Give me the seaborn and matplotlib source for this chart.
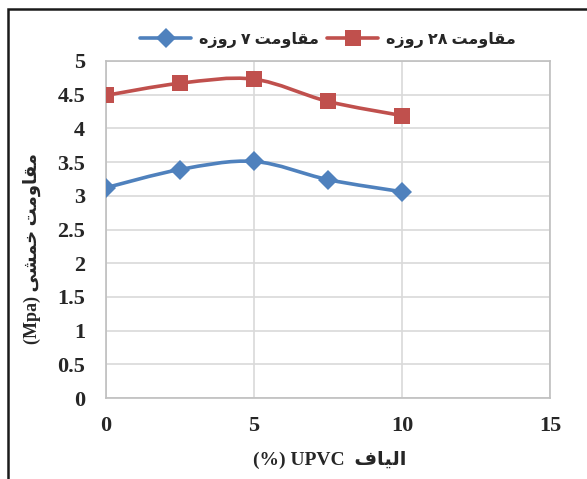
import numpy as np
import pandas as pd
import seaborn as sns
import matplotlib.pyplot as plt
from matplotlib.path import Path
from matplotlib.patches import PathPatch, Rectangle
from matplotlib.lines import Line2D

# fibre content (%) and flexural strength (MPa)
fiber = [0, 2.5, 5, 7.5, 10]
strength_7 = [3.12, 3.39, 3.51, 3.24, 3.06]
strength_28 = [4.49, 4.67, 4.73, 4.40, 4.19]

# Persian labels written in shaped presentation forms, visual (left-to-right) order
w_moqavemat = "\uFE96\uFEE3\uFEED\uFE8E\uFED8\uFEE3"   # مقاومت
w_rooze = "\uFEE9\uFEAF\uFEED\uFEAD"                   # روزه
w_khamshi = "\uFEF0\uFEB8\uFEE4\uFEA7"                 # خمشی
w_alyaf = "\uFED1\uFE8E\uFEF4\uFEDF\uFE8D"             # الیاف

label_7 = w_rooze + " \u06F7 " + w_moqavemat
label_28 = w_rooze + " \u06F2\u06F8 " + w_moqavemat
y_label = "(Mpa) " + w_khamshi + " " + w_moqavemat
x_label = "(%) UPVC  " + w_alyaf

x_ticks = [0, 5, 10, 15]
y_ticks = [0, 0.5, 1, 1.5, 2, 2.5, 3, 3.5, 4, 4.5, 5]
y_ticklabels = ["0", "0.5", "1", "1.5", "2", "2.5", "3", "3.5", "4", "4.5", "5"]

series_names = [label_7, label_28]
colors = {label_7: "#4F81BD", label_28: "#C0504D"}
markers = {label_7: "D", label_28: "s"}
msize = {label_7: 10, label_28: 11}

df = pd.DataFrame({
    "fiber": fiber * 2,
    "strength": strength_7 + strength_28,
    "series": [label_7] * len(fiber) + [label_28] * len(fiber),
})

sns.set_theme(style="white")
FAM = ["Liberation Serif", "DejaVu Sans"]
plt.rcParams["font.family"] = FAM
plt.rcParams["font.weight"] = "bold"

fig = plt.figure(figsize=(5.87, 4.79), dpi=100)
ax = fig.add_axes([106 / 587, 1 - 398 / 479, 444 / 587, 337 / 479])


def smooth_path(xs, ys):
    pts = np.column_stack([xs, ys]).astype(float)
    n = len(pts)
    verts = [pts[0]]
    codes = [Path.MOVETO]
    for i in range(n - 1):
        p0 = pts[max(i - 1, 0)]
        p1 = pts[i]
        p2 = pts[i + 1]
        p3 = pts[min(i + 2, n - 1)]
        c1 = p1 + (p2 - p0) / 6.0
        c2 = p2 - (p3 - p1) / 6.0
        verts += [c1, c2, p2]
        codes += [Path.CURVE4] * 3
    return Path(verts, codes)


for name in series_names:
    sub = df[df["series"] == name]
    ax.add_patch(PathPatch(smooth_path(sub["fiber"], sub["strength"]),
                           fill=False, edgecolor=colors[name], lw=2.6,
                           capstyle="round", joinstyle="round", zorder=3))
    sns.lineplot(data=sub, x="fiber", y="strength", ax=ax, color=colors[name],
                 marker=markers[name], markersize=msize[name], linestyle="none",
                 markeredgewidth=0, legend=False, zorder=4)

ax.set_xlim(0, 15)
ax.set_ylim(0, 5)
ax.set_xticks(x_ticks)
ax.set_xticklabels([str(t) for t in x_ticks])
ax.set_yticks(y_ticks)
ax.set_yticklabels(y_ticklabels)
ax.grid(True, color="#D9D9D9", lw=1.2)
ax.set_axisbelow(True)
for sp in ax.spines.values():
    sp.set_color("#BFBFBF")
    sp.set_linewidth(1.2)
ax.tick_params(axis="both", length=0, labelsize=16)
ax.tick_params(axis="y", pad=15)
ax.tick_params(axis="x", pad=13)
for t in ax.get_xticklabels() + ax.get_yticklabels():
    t.set_fontweight("bold")
    t.set_fontfamily(FAM)

ax.set_xlabel("")
ax.set_ylabel("")
fig.text(330 / 587, 1 - 460 / 479, x_label, ha="center", va="center",
         fontsize=14, fontweight="bold", family=FAM)
fig.text(32 / 587, 1 - 248 / 479, y_label, ha="center", va="center",
         rotation=90, fontsize=13, fontweight="bold", family=FAM)

handles = [Line2D([0], [0], color=colors[n], lw=2.6, marker=markers[n],
                  markersize=msize[n], markeredgewidth=0) for n in series_names]
fig.legend(handles, series_names, loc="center", bbox_to_anchor=(328 / 587, 1 - 40 / 479),
           ncol=2, frameon=False, handlelength=3.2, handletextpad=0.5,
           columnspacing=0.5, prop={"family": FAM, "weight": "bold", "size": 11.5})

# outer frame
fig.add_artist(Rectangle((8 / 587, -0.05), 1.2, 1 - 9 / 479 + 0.05,
                         transform=fig.transFigure, fill=False,
                         edgecolor="#1a1a1a", lw=1.8))

fig.savefig("out.png", dpi=100)
